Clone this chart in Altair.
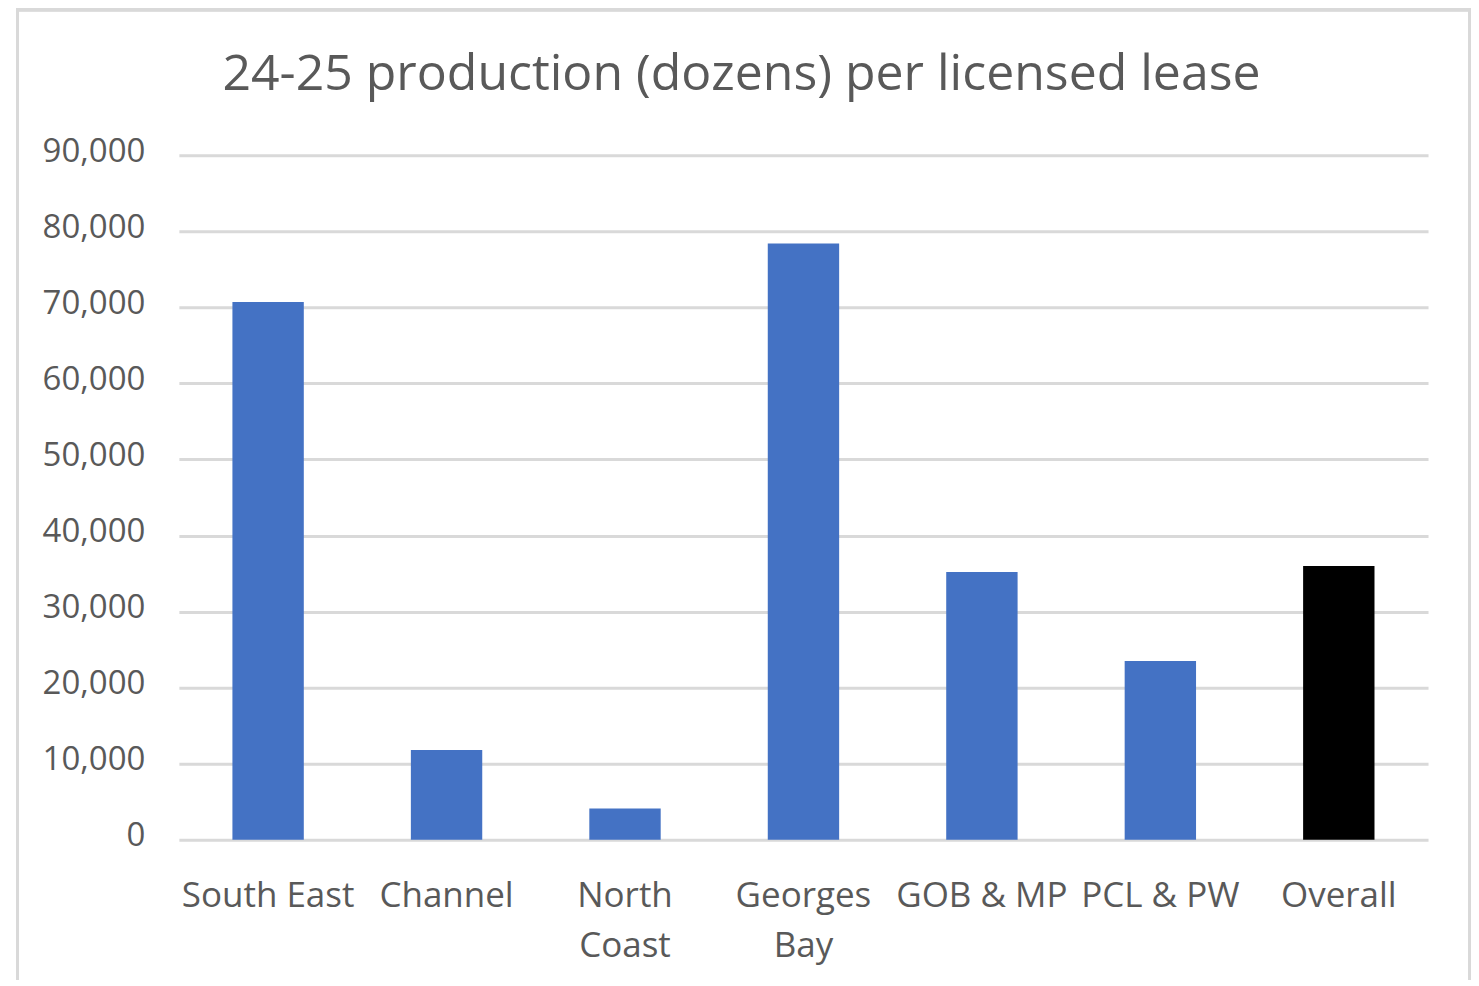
import altair as alt
import pandas as pd

categories = ["South East", "Channel", "North Coast", "Georges Bay", "GOB & MP", "PCL & PW", "Overall"]
values = [70700, 11800, 4100, 78400, 35200, 23500, 36000]
colors = ["#4472C4", "#4472C4", "#4472C4", "#4472C4", "#4472C4", "#4472C4", "#000000"]
y_ticks = [0, 10000, 20000, 30000, 40000, 50000, 60000, 70000, 80000, 90000]
title_text = "24-25 production (dozens) per licensed lease"

df = pd.DataFrame({"cat": categories, "val": values, "col": colors})

FONT = "Open Sans"
GREY = "#595959"

bars = alt.Chart(df).mark_bar().encode(
    x=alt.X("cat:N", sort=categories,
            scale=alt.Scale(paddingInner=0.6, paddingOuter=0.3),
            axis=alt.Axis(title=None, labelAngle=0, labelFontSize=35, labelFont=FONT,
                          labelColor=GREY, labelPadding=39, ticks=False, domain=False,
                          labelLineHeight=50, labelBaseline="top",
                          labelExpr="datum.label == 'North Coast' || datum.label == 'Georges Bay' ? split(datum.label, ' ') : datum.label")),
    y=alt.Y("val:Q", scale=alt.Scale(domain=[0, 90000], nice=False),
            axis=alt.Axis(title=None, values=y_ticks, format=",.0f", labelFontSize=33, labelFont=FONT,
                          labelColor=GREY, labelPadding=34, ticks=False, domain=False,
                          labelOffset=-4,
                          gridColor="#D9D9D9", gridWidth=3)),
    color=alt.Color("col:N", scale=None, legend=None),
)

border = alt.Chart(df).mark_rect(fill=None, stroke="#D9D9D9", strokeWidth=3, clip=False).encode(
    x=alt.value(-161.5), x2=alt.value(1291.5), y=alt.value(-145.5), y2=alt.value(1000)
)

title = alt.Chart(pd.DataFrame({"t": [title_text]})).mark_text(
    font=FONT, fontSize=50, color=GREY, baseline="alphabetic", align="center"
).encode(text="t:N", x=alt.value(563), y=alt.value(-65))

chart = alt.layer(border, bars, title).properties(
    width=1250, height=685,
    autosize=alt.AutoSizeParams(type="none"),
    padding={"left": 171, "top": 147, "right": 43, "bottom": 140},
).configure_view(stroke=None)

chart.save("out.html", embed_options={"renderer": "svg", "actions": False})
